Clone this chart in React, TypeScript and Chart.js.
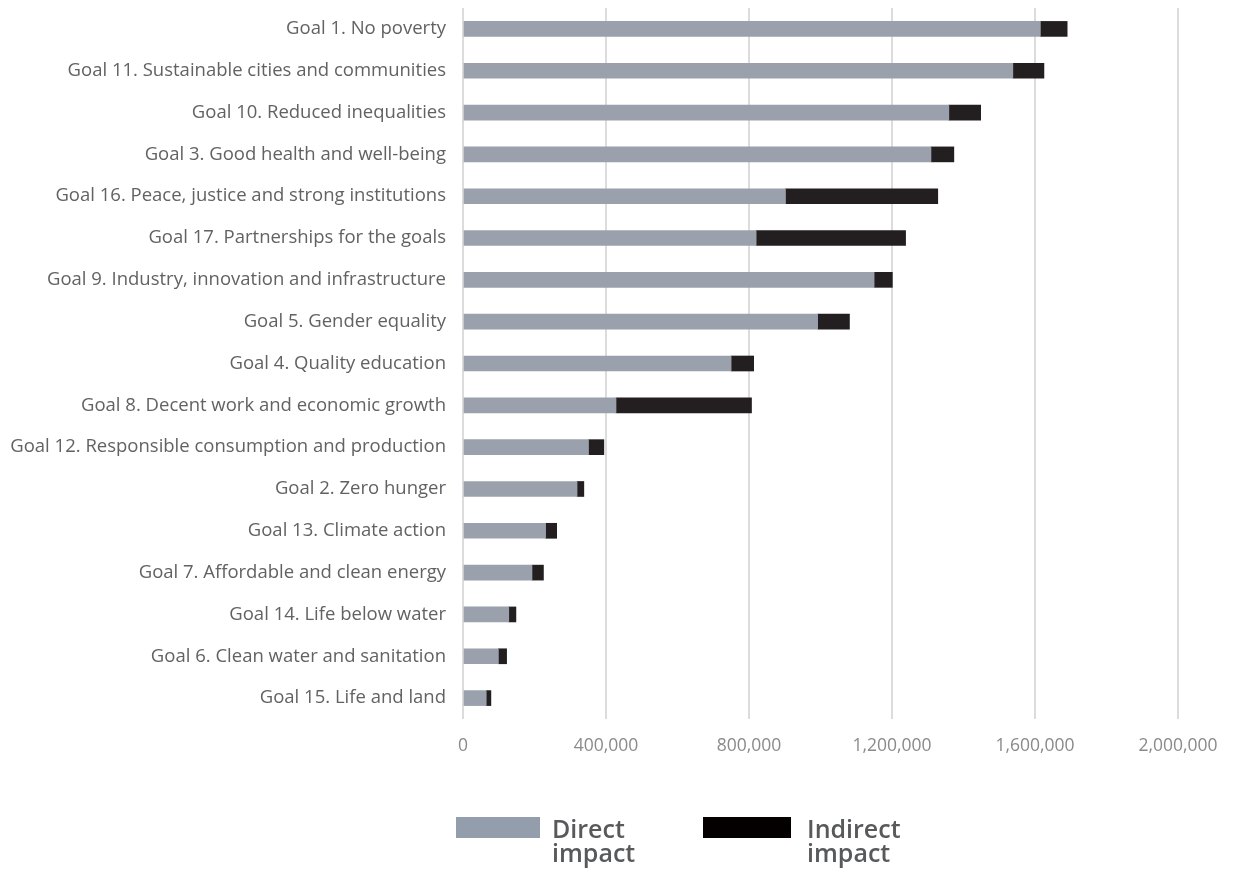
import React, { useEffect, useRef } from "react";
import { Chart, registerables } from "chart.js";

Chart.register(...registerables);

const categories = [
  "Goal 1. No poverty",
  "Goal 11. Sustainable cities and communities",
  "Goal 10. Reduced inequalities",
  "Goal 3. Good health and well-being",
  "Goal 16. Peace, justice and strong institutions",
  "Goal 17. Partnerships for the goals",
  "Goal 9. Industry, innovation and infrastructure",
  "Goal 5. Gender equality",
  "Goal 4. Quality education",
  "Goal 8. Decent work and economic growth",
  "Goal 12. Responsible consumption and production",
  "Goal 2. Zero hunger",
  "Goal 13. Climate action",
  "Goal 7. Affordable and clean energy",
  "Goal 14. Life below water",
  "Goal 6. Clean water and sanitation",
  "Goal 15. Life and land",
];

const directImpact = [
  1615000, 1538000, 1359000, 1309000, 902000, 820000, 1150000, 992000, 750000,
  428000, 351000, 319000, 231000, 193000, 128000, 99000, 65000,
];

const indirectImpact = [
  75000, 87000, 89000, 64000, 426000, 418000, 51000, 89000, 63000, 379000,
  43000, 19000, 31000, 32000, 20000, 23000, 13000,
];

const xTicks = [0, 400000, 800000, 1200000, 1600000, 2000000];

const seriesNames = [
  ["Direct", "impact"],
  ["Indirect", "impact"],
];
const seriesColors = ["#9aa1ad", "#231f20"];
const legendBoxColors = ["#939dac", "#050000"];

const legendPlugin = {
  id: "customLegend",
  afterDraw(chart: any) {
    const ctx = chart.ctx;
    ctx.save();
    const items = [
      { boxX: 456, boxW: 84, textX: 552 },
      { boxX: 703, boxW: 88, textX: 807 },
    ];
    items.forEach((it, i) => {
      ctx.fillStyle = legendBoxColors[i];
      ctx.fillRect(it.boxX, 817, it.boxW, 21);
      ctx.fillStyle = "#58595b";
      ctx.font = "600 25px 'Open Sans'";
      ctx.textBaseline = "alphabetic";
      ctx.textAlign = "left";
      ctx.fillText(seriesNames[i][0], it.textX, 838);
      ctx.fillText(seriesNames[i][1], it.textX, 862);
    });
    ctx.restore();
  },
};

export default function App() {
  const ref = useRef<HTMLCanvasElement>(null);
  useEffect(() => {
    if (!ref.current) return;
    const chart = new Chart(ref.current, {
      type: "bar",
      data: {
        labels: categories,
        datasets: [
          {
            label: seriesNames[0].join(" "),
            data: directImpact,
            backgroundColor: seriesColors[0],
            barThickness: 15,
          },
          {
            label: seriesNames[1].join(" "),
            data: indirectImpact,
            backgroundColor: seriesColors[1],
            barThickness: 15,
          },
        ],
      },
      options: {
        indexAxis: "y",
        animation: false,
        responsive: false,
        maintainAspectRatio: false,
        layout: { padding: { top: 8, right: 61, bottom: 116, left: 0 } },
        plugins: {
          legend: { display: false },
          tooltip: { enabled: false },
        },
        scales: {
          x: {
            stacked: true,
            min: 0,
            max: 2000000,
            afterBuildTicks: (scale: any) => {
              scale.ticks = xTicks.map((v) => ({ value: v }));
            },
            afterFit: (scale: any) => {
              scale.height = 40;
            },
            grid: {
              color: "#dcdcdc",
              lineWidth: 2,
              drawTicks: false,
            },
            border: { display: false },
            ticks: {
              padding: 17,
              color: "#8a8a8a",
              font: { family: "'Open Sans'", size: 17.5 },
              callback: (v: any) => Number(v).toLocaleString("en-US"),
            },
          },
          y: {
            stacked: true,
            afterFit: (scale: any) => {
              scale.width = 463;
              scale.paddingTop = 0;
              scale.paddingBottom = 0;
            },
            grid: { display: false, drawTicks: false },
            border: { display: false },
            ticks: {
              padding: 17,
              color: "#626262",
              font: { family: "'Open Sans'", size: 18.5 },
            },
          },
        },
      },
      plugins: [legendPlugin],
    });
    return () => chart.destroy();
  }, []);
  return (
    <div style={{ position: "absolute", left: 0, top: 0, width: 1239, height: 875 }}>
      <canvas ref={ref} width={1239} height={875} style={{ width: 1239, height: 875 }} />
    </div>
  );
}
